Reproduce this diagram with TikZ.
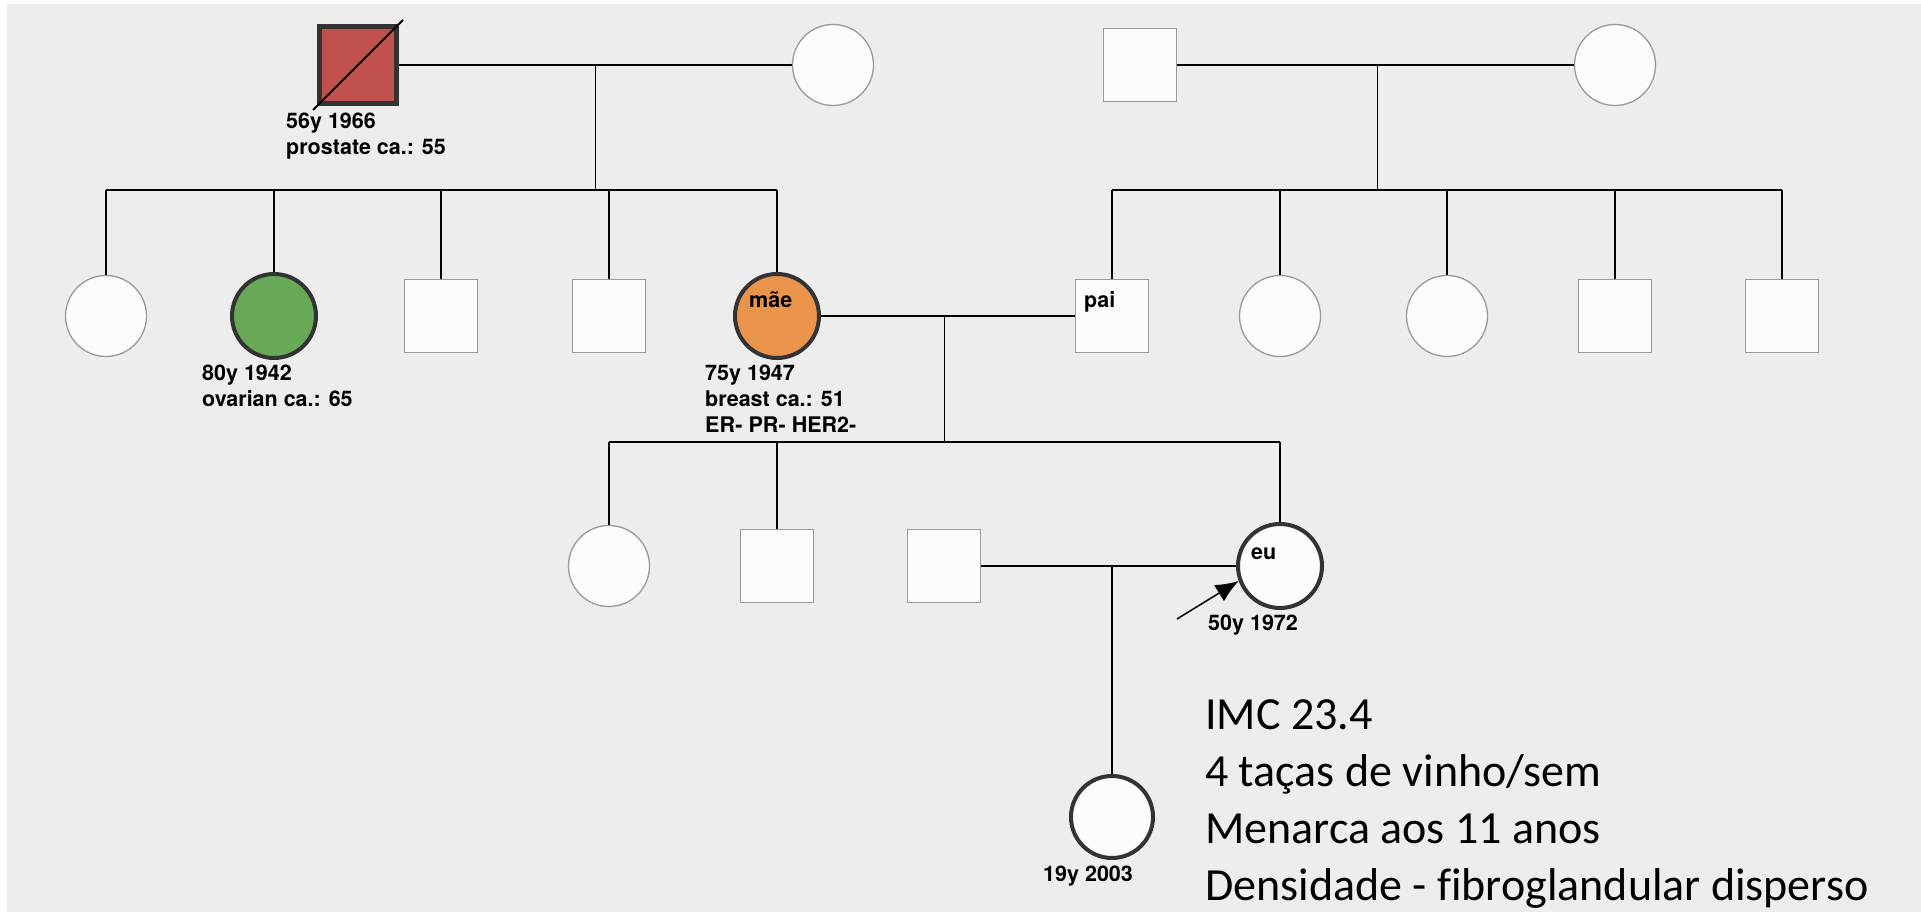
\documentclass[tikz,border=0pt]{standalone}
\usepackage{fontspec}
\usepackage{xcolor,tikz}
\usetikzlibrary{arrows.meta,calc}
\newfontfamily\pedfont{TeX Gyre Heros}
\newfontfamily\notefont[Ligatures=NoCommon]{Carlito}
\definecolor{bgpanel}{HTML}{EDEDED}
\definecolor{nodewhite}{HTML}{FCFCFC}
\definecolor{rimgray}{HTML}{9A9A9A}
\definecolor{rimdark}{HTML}{333333}
\definecolor{gfred}{HTML}{C0504D}
\definecolor{ovgreen}{HTML}{68A957}
\definecolor{brorange}{HTML}{E9944A}

\begin{document}
\begin{tikzpicture}[
  x=1pt,y=1pt,
  >=Latex,
  male/.style={draw=rimgray,fill=nodewhite,line width=1.3pt,minimum size=73pt,inner sep=0pt},
  female/.style={circle,draw=rimgray,fill=nodewhite,line width=1.3pt,minimum size=81pt,inner sep=0pt},
  affected/.style={draw=rimdark,line width=4pt,minimum size=84pt},
  link/.style={line width=1.6pt},
  tag/.style={font=\pedfont\bfseries\fontsize{21.5}{26}\selectfont,inner sep=0pt,align=left}
]
\useasboundingbox (0,0) rectangle (1921,912);
\fill[white] (0,0) rectangle (1921,912);
\fill[bgpanel] (7,0) rectangle (1921,908);

% Grandparents on both sides.
\node[male,affected,fill=gfred,line width=5pt,minimum size=77pt] (gf1) at (358,847) {};
\node[female] (gm1) at (833,847) {};
\node[male] (gf2) at (1140,847) {};
\node[female] (gm2) at (1615,847) {};

% Second generation.
\node[female] (a1) at (106,596) {};
\node[female,affected,fill=ovgreen] (a2) at (274,596) {};
\node[male] (a3) at (441,596) {};
\node[male] (a4) at (609,596) {};
\node[female,affected,fill=brorange] (mae) at (777,596) {};
\node[male] (pai) at (1112,596) {};
\node[female] (b1) at (1280,596) {};
\node[female] (b2) at (1447,596) {};
\node[male] (b3) at (1615,596) {};
\node[male] (b4) at (1782,596) {};

% Third and fourth generation.
\node[female] (c1) at (609,346) {};
\node[male] (c2) at (777,346) {};
\node[male] (sp) at (944,346) {};
\node[female,affected] (eu) at (1280,346) {};
\node[female,affected,minimum size=82pt] (dau) at (1112,95) {};

% Deceased mark.
\draw[line width=2pt] ($(gf1.south west)+(-4,-4)$) -- ($(gf1.north east)+(4,4)$);

% Couples and sibships.
\draw[link] (gf1) -- (gm1);
\coordinate (u1) at ($(gf1)!.5!(gm1)$);
\coordinate (k1) at (u1 |- 0,722);
\draw[link] (u1) -- (k1);
\draw[link] (a1 |- k1) -- (mae |- k1);
\foreach \n in {a1,a2,a3,a4,mae}{\draw[link] (\n |- k1) -- (\n);}

\draw[link] (gf2) -- (gm2);
\coordinate (u2) at ($(gf2)!.5!(gm2)$);
\coordinate (k2) at (u2 |- 0,722);
\draw[link] (u2) -- (k2);
\draw[link] (pai |- k2) -- (b4 |- k2);
\foreach \n in {pai,b1,b2,b3,b4}{\draw[link] (\n |- k2) -- (\n);}

\draw[link] (mae) -- (pai);
\coordinate (u3) at ($(mae)!.5!(pai)$);
\coordinate (k3) at (u3 |- 0,470);
\draw[link] (u3) -- (k3);
\draw[link] (c1 |- k3) -- (eu |- k3);
\foreach \n in {c1,c2,eu}{\draw[link] (\n |- k3) -- (\n);}

\draw[link] (sp) -- (eu);
\coordinate (u4) at ($(sp)!.5!(eu)$);
\draw[link] (u4) -- (dau);

% Proband arrow.
\coordinate (pb) at (1177,293);
\draw[line width=1.5pt,-{Latex[length=23pt,width=19pt]}] (pb) -- (eu.200);

% Labels.
\node[tag,anchor=north west] (t1) at (286,799) {56y 1966\\prostate ca.: 55};
\node[tag,anchor=north west] (t2) at (202,547) {80y 1942\\ovarian ca.: 65};
\node[tag,anchor=north west] (t3) at (705,547) {75y 1947\\breast ca.: 51\\ER- PR- HER2-};
\node[tag,anchor=north west] (t4) at (1208,297) {50y 1972};
\node[tag,anchor=north west] (t5) at (1043,46) {19y 2003};
\node[tag,anchor=base west] (n1) at (749,604) {mãe};
\node[tag,anchor=base west] (n2) at (1084,604) {pai};
\node[tag,anchor=base west] (n3) at (1251,352) {eu};

\node[anchor=north west,inner sep=0pt,align=left,font=\notefont\fontsize{46}{57.3}\selectfont] (notes) at (1205,213)
  {IMC 23.4\\4 taças de vinho/sem\\Menarca aos 11 anos\\Densidade - fibroglandular disperso};
\end{tikzpicture}
\end{document}
